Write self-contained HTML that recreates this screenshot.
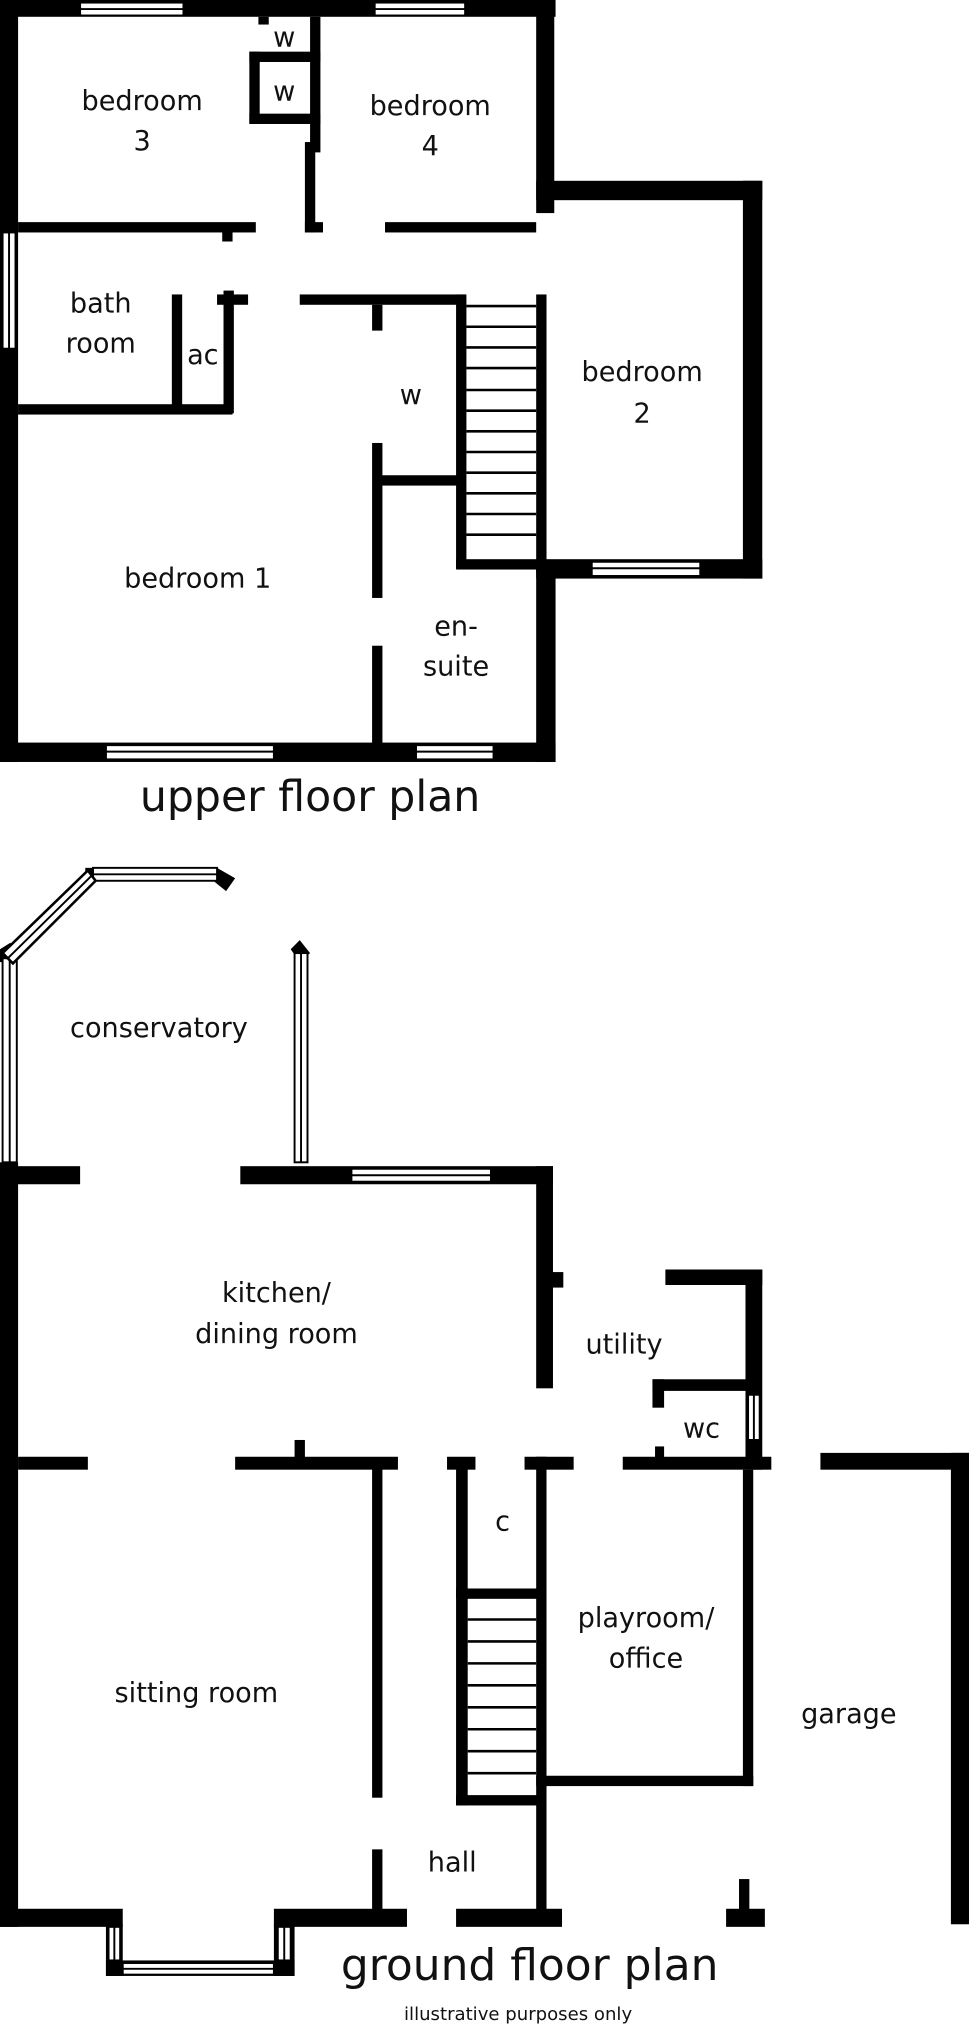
<!DOCTYPE html>
<html><head><meta charset="utf-8"><style>
html,body{margin:0;padding:0;background:#fff;}
svg{display:block;}
text{font-family:"DejaVu Sans","Liberation Sans",sans-serif;fill:#111;text-anchor:middle;}
</style></head><body>
<svg width="969" height="2025" viewBox="0 0 750 1568" preserveAspectRatio="none" xmlns="http://www.w3.org/2000/svg">
<g fill="#000">
<rect x="0" y="0" width="430" height="13"/>
<rect x="0" y="0" width="14" height="590"/>
<rect x="415" y="0" width="14" height="165"/>
<rect x="415" y="140" width="175" height="15"/>
<rect x="575" y="140" width="15" height="308"/>
<rect x="415" y="433" width="175" height="15"/>
<rect x="415" y="228" width="8" height="215"/>
<rect x="415" y="440" width="15" height="150"/>
<rect x="0" y="575" width="430" height="15"/>
<rect x="14" y="172" width="184" height="8"/>
<rect x="172" y="175" width="8" height="12"/>
<rect x="236" y="172" width="14" height="8"/>
<rect x="298" y="172" width="117" height="8"/>
<rect x="193" y="40" width="8" height="56"/>
<rect x="193" y="40" width="55" height="8"/>
<rect x="193" y="88" width="55" height="8"/>
<rect x="240" y="13" width="8" height="105"/>
<rect x="236" y="110" width="8" height="70"/>
<rect x="200" y="13" width="8" height="6"/>
<rect x="14" y="313" width="166" height="8"/>
<rect x="133" y="228" width="8" height="92"/>
<rect x="173" y="225" width="8" height="95"/>
<rect x="168" y="228" width="24" height="8"/>
<rect x="232" y="228" width="128" height="8"/>
<rect x="353" y="228" width="8" height="212"/>
<rect x="353" y="433" width="70" height="8"/>
<rect x="288" y="236" width="8" height="20"/>
<rect x="288" y="343" width="8" height="120"/>
<rect x="290" y="368" width="65" height="8"/>
<rect x="288" y="500" width="8" height="76"/>
<rect x="0" y="903" width="62" height="14"/>
<rect x="186" y="903" width="242" height="14"/>
<rect x="415" y="903" width="13" height="172"/>
<rect x="426" y="985" width="10" height="12"/>
<rect x="0" y="900" width="14" height="592"/>
<rect x="515" y="983" width="75" height="12"/>
<rect x="577" y="983" width="13" height="155"/>
<rect x="505" y="1068" width="75" height="9"/>
<rect x="505" y="1068" width="9" height="22"/>
<rect x="14" y="1128" width="54" height="10"/>
<rect x="182" y="1128" width="126" height="10"/>
<rect x="346" y="1128" width="22" height="10"/>
<rect x="406" y="1128" width="38" height="10"/>
<rect x="482" y="1128" width="115" height="10"/>
<rect x="228" y="1115" width="8" height="15"/>
<rect x="507" y="1120" width="7" height="10"/>
<rect x="288" y="1130" width="8" height="262"/>
<rect x="288" y="1432" width="8" height="50"/>
<rect x="353" y="1130" width="9" height="268"/>
<rect x="353" y="1230" width="65" height="8"/>
<rect x="353" y="1390" width="65" height="8"/>
<rect x="415" y="1128" width="8" height="352"/>
<rect x="575" y="1138" width="8" height="245"/>
<rect x="415" y="1375" width="168" height="8"/>
<rect x="0" y="1478" width="95" height="14"/>
<rect x="212" y="1478" width="103" height="14"/>
<rect x="353" y="1478" width="82" height="14"/>
<rect x="562" y="1478" width="30" height="14"/>
<rect x="572" y="1455" width="8" height="25"/>
<rect x="82" y="1490" width="13" height="40"/>
<rect x="212" y="1490" width="16" height="40"/>
<rect x="82" y="1518" width="146" height="12"/>
<rect x="635" y="1125" width="115" height="13"/>
<rect x="736" y="1125" width="14" height="365"/>
<polygon points="168,672 182,680 175,690 165,682"/>
<polygon points="225,735 232,728 240,738 232,745"/>
<polygon points="0,735 8,730 14,740 10,745 0,745"/>
<polygon points="66,672 75,672 75,682 66,682"/>
</g>
<g fill="#fff" stroke="#000" stroke-width="1.5">
<rect x="62" y="2" width="80" height="10"/><line x1="62" y1="7" x2="142" y2="7"/>
<rect x="290" y="2" width="70" height="10"/><line x1="290" y1="7" x2="360" y2="7"/>
<rect x="2" y="180" width="10" height="90"/><line x1="7" y1="180" x2="7" y2="270"/>
<rect x="82" y="577" width="130" height="11"/><line x1="82" y1="582" x2="212" y2="582"/>
<rect x="322" y="577" width="60" height="11"/><line x1="322" y1="582" x2="382" y2="582"/>
<rect x="458" y="435" width="84" height="11"/><line x1="458" y1="440" x2="542" y2="440"/>
<rect x="2" y="742" width="11" height="158"/><line x1="7.5" y1="742" x2="7.5" y2="900"/>
<rect x="72" y="672" width="96" height="10"/><line x1="72" y1="677" x2="168" y2="677"/>
<rect x="228" y="738" width="10" height="162"/><line x1="233" y1="738" x2="233" y2="900"/>
<rect x="272" y="905" width="108" height="10"/><line x1="272" y1="910" x2="380" y2="910"/>
<rect x="579" y="1080" width="9" height="35"/><line x1="583.5" y1="1080" x2="583.5" y2="1115"/>
<rect x="95" y="1520" width="117" height="9"/><line x1="95" y1="1524.5" x2="212" y2="1524.5"/>
<rect x="84" y="1492" width="9" height="26"/><line x1="88.5" y1="1492" x2="88.5" y2="1518"/>
<rect x="215" y="1492" width="10" height="26"/><line x1="220" y1="1492" x2="220" y2="1518"/>
</g>
<polygon points="2,738 68,674 74,682 10,746" fill="#fff" stroke="#000" stroke-width="2"/>
<line x1="6" y1="742" x2="71" y2="678" stroke="#000" stroke-width="1.5"/>
<g stroke="#000" stroke-width="2">
<line x1="361" y1="237" x2="415" y2="237"/><line x1="361" y1="253" x2="415" y2="253"/>
<line x1="361" y1="269" x2="415" y2="269"/><line x1="361" y1="285" x2="415" y2="285"/>
<line x1="361" y1="302" x2="415" y2="302"/><line x1="361" y1="318" x2="415" y2="318"/>
<line x1="361" y1="334" x2="415" y2="334"/><line x1="361" y1="350" x2="415" y2="350"/>
<line x1="361" y1="366" x2="415" y2="366"/><line x1="361" y1="382" x2="415" y2="382"/>
<line x1="361" y1="398" x2="415" y2="398"/><line x1="361" y1="414" x2="415" y2="414"/>
<line x1="362" y1="1254" x2="415" y2="1254"/><line x1="362" y1="1271" x2="415" y2="1271"/>
<line x1="362" y1="1288" x2="415" y2="1288"/><line x1="362" y1="1305" x2="415" y2="1305"/>
<line x1="362" y1="1322" x2="415" y2="1322"/><line x1="362" y1="1339" x2="415" y2="1339"/>
<line x1="362" y1="1356" x2="415" y2="1356"/><line x1="362" y1="1373" x2="415" y2="1373"/>
</g>
<g font-size="21">
<text x="220" y="36">w</text><text x="220" y="78">w</text>
<text x="110" y="85">bedroom</text><text x="110" y="116">3</text>
<text x="333" y="89">bedroom</text><text x="333" y="120">4</text>
<text x="78" y="242">bath</text><text x="78" y="273">room</text>
<text x="157" y="282">ac</text>
<text x="318" y="313">w</text>
<text x="497" y="295">bedroom</text><text x="497" y="327">2</text>
<text x="153" y="455">bedroom 1</text>
<text x="353" y="492">en-</text><text x="353" y="523">suite</text>
<text x="123" y="803">conservatory</text>
<text x="214" y="1008">kitchen/</text><text x="214" y="1040">dining room</text>
<text x="483" y="1048">utility</text>
<text x="543" y="1113">wc</text>
<text x="389" y="1185">c</text>
<text x="500" y="1260">playroom/</text><text x="500" y="1291">office</text>
<text x="152" y="1318">sitting room</text>
<text x="657" y="1334">garage</text>
<text x="350" y="1449">hall</text>
</g>
<text x="240" y="628" font-size="33">upper floor plan</text>
<text x="410" y="1533" font-size="34">ground floor plan</text>
<text x="401" y="1564" font-size="14">illustrative purposes only</text>
</svg>
</body></html>
